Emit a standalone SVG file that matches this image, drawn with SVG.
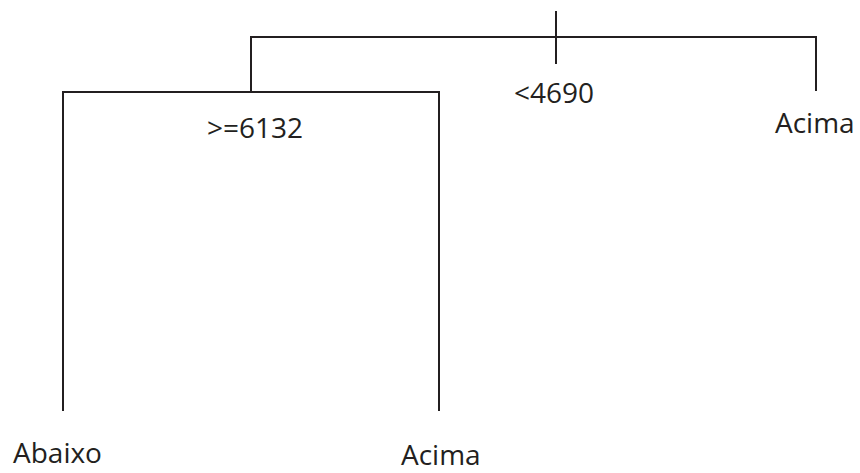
<svg xmlns="http://www.w3.org/2000/svg" width="860" height="473" viewBox="0 0 860 473">
  <style>
    .edge { fill: none; stroke: #231f20; stroke-width: 2; stroke-linecap: butt; stroke-linejoin: miter; }
    .lbl { font-family: "Open Sans", "Noto Sans", "Liberation Sans", sans-serif; font-size: 28px; fill: #231f20; }
  </style>
  <rect width="860" height="473" fill="#ffffff"/>
  <g id="connectors">
    <!-- root stem and first split -->
    <line class="edge" x1="556" y1="11" x2="556" y2="64"/>
    <polyline class="edge" points="251,92 251,37 816,37 816,91"/>
    <!-- second split -->
    <polyline class="edge" points="63,411 63,92 439,92 439,411"/>
  </g>
  <g id="node-root">
    <text class="lbl" x="514" y="103">&lt;4690</text>
  </g>
  <g id="node-right-acima">
    <text class="lbl" x="775" y="133">Acima</text>
  </g>
  <g id="node-split">
    <text class="lbl" x="207" y="138">&gt;=6132</text>
  </g>
  <g id="node-abaixo">
    <text class="lbl" x="13" y="463">Abaixo</text>
  </g>
  <g id="node-acima">
    <text class="lbl" x="401" y="465">Acima</text>
  </g>
</svg>
